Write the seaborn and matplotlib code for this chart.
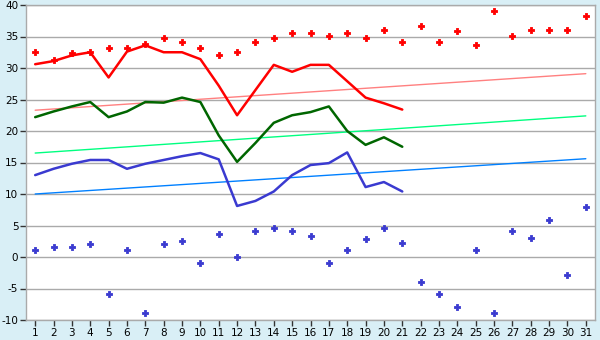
import matplotlib
matplotlib.use("Agg")
import matplotlib.pyplot as plt
import seaborn as sns
import pandas as pd
import numpy as np

days = list(range(1, 32))
line_days = list(range(1, 22))

max_points = [32.6, 31.2, 32.4, 32.6, 33.1, 33.1, 33.8, 34.7, 34.2, 33.1, 32.1,
              32.6, 34.2, 34.7, 35.6, 35.6, 35.1, 35.6, 34.7, 36.1, 34.2, 36.6,
              34.2, 35.8, 33.7, 39.1, 35.1, 36.1, 36.1, 36.1, 38.2]
min_points = [1.1, 1.6, 1.6, 2.1, -5.9, 1.1, -8.9, 2.1, 2.6, -1.0, 3.7, 0.0,
              4.1, 4.6, 4.1, 3.3, -1.0, 1.1, 2.9, 4.6, 2.2, -4.0, -5.9, -8.0,
              1.1, -8.9, 4.1, 3.0, 5.9, -2.9, 8.0]

red_line = [30.6, 31.1, 32.0, 32.5, 28.5, 32.6, 33.6, 32.5, 32.5, 31.4, 27.2,
            22.5, 26.5, 30.5, 29.4, 30.5, 30.5, 27.9, 25.3, 24.4, 23.4]
green_line = [22.2, 23.1, 23.9, 24.6, 22.2, 23.1, 24.6, 24.5, 25.3, 24.6, 19.3,
              15.1, 18.1, 21.3, 22.5, 23.0, 23.9, 20.0, 17.8, 19.0, 17.5]
blue_line = [13.0, 14.0, 14.8, 15.4, 15.4, 14.0, 14.8, 15.4, 16.0, 16.5, 15.5,
             8.1, 8.9, 10.4, 13.0, 14.6, 14.9, 16.6, 11.1, 11.9, 10.4]

trend_days = [1, 31]
red_trend = [23.3, 29.1]
green_trend = [16.5, 22.4]
blue_trend = [10.0, 15.6]

yticks = list(range(-10, 41, 5))

sns.set_theme(style="white")
plt.rcParams['font.family'] = ['DejaVu Sans']

bg = "#d9eff6"
fig = plt.figure(figsize=(6, 3.4), dpi=100, facecolor=bg)
ax = fig.add_axes([26 / 600, 20 / 340, 569 / 600, 315 / 340])
ax.set_facecolor("white")

for y in yticks:
    ax.axhline(y, color="#aaaaaa", lw=1.0, zorder=0)

df_tr = pd.DataFrame({"day": trend_days, "red": red_trend, "green": green_trend, "blue": blue_trend})
sns.lineplot(data=df_tr, x="day", y="red", color="#ff8080", lw=1.0, ax=ax, zorder=2)
sns.lineplot(data=df_tr, x="day", y="green", color="#00ff80", lw=1.0, ax=ax, zorder=2)
sns.lineplot(data=df_tr, x="day", y="blue", color="#0080ff", lw=1.0, ax=ax, zorder=2)

df_l = pd.DataFrame({"day": line_days, "red": red_line, "green": green_line, "blue": blue_line})
sns.lineplot(data=df_l, x="day", y="red", color="#ff0000", lw=1.8, ax=ax, zorder=3)
sns.lineplot(data=df_l, x="day", y="green", color="#006600", lw=1.8, ax=ax, zorder=3)
sns.lineplot(data=df_l, x="day", y="blue", color="#3a3ad0", lw=1.8, ax=ax, zorder=3)

df_p = pd.DataFrame({"day": days, "maxv": max_points, "minv": min_points})
sns.scatterplot(data=df_p, x="day", y="maxv", color="#ff0000", marker="P", s=22,
                linewidth=0.6, edgecolor="#ff0000", ax=ax, zorder=4)
sns.scatterplot(data=df_p, x="day", y="minv", color="#3a3ad0", marker="P", s=22,
                linewidth=0.6, edgecolor="#3a3ad0", ax=ax, zorder=4)

ax.set_xlim(0.5, 31.5)
ax.set_ylim(-10, 40)
ax.set_xticks(days)
ax.set_xticklabels([str(d) for d in days])
ax.set_yticks(yticks)
ax.set_yticklabels([str(y) for y in yticks])
ax.set_xlabel("")
ax.set_ylabel("")
ax.tick_params(axis="both", direction="out", length=4, width=1, color="#333333",
               labelsize=7.5, labelcolor="black", pad=1.5)
ax.tick_params(axis="x", bottom=True)
ax.tick_params(axis="y", left=True)
for s in ax.spines.values():
    s.set_visible(True)
    s.set_color("#aaaaaa")
    s.set_linewidth(1.0)

fig.savefig("out.png", dpi=100, facecolor=bg)
